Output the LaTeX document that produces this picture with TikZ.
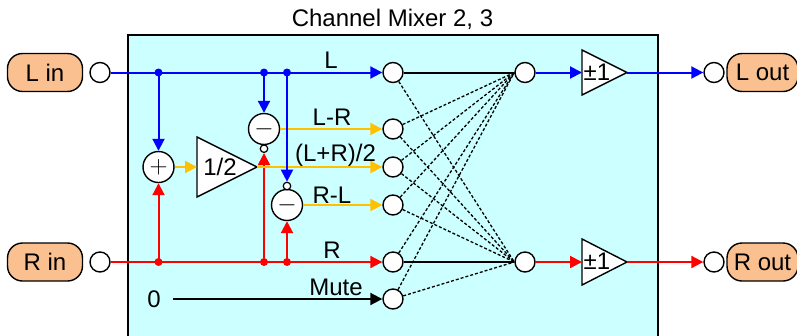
\documentclass[tikz,border=0pt]{standalone}
\usepackage{fontspec}
\setmainfont{Liberation Sans}
\usetikzlibrary{arrows.meta}
\definecolor{panelbg}{HTML}{CCFFFF}
\definecolor{pillbg}{HTML}{FAC08F}
\definecolor{amber}{HTML}{FFC000}
\tikzset{
  lbl/.style={inner sep=0pt,font=\fontsize{24}{26}\selectfont},
  pill/.style={draw=black,line width=1.4pt,fill=pillbg,rounded corners=15pt,minimum height=38pt,inner sep=0pt,font=\fontsize{24}{26}\selectfont},
  port/.style={circle,draw=black,line width=1.4pt,fill=white,minimum size=20pt,inner sep=0pt},
  mixer/.style={circle,draw=black,line width=1.4pt,fill=white,minimum size=31pt,inner sep=0pt,text height=0pt,text depth=0pt,font=\fontsize{25}{26}\selectfont},
  invert/.style={circle,draw=black,line width=1.2pt,fill=white,minimum size=7.5pt,inner sep=0pt},
  dot/.style={circle,minimum size=8pt,inner sep=0pt},
  sig/.style={line width=2pt,-{Triangle[length=12pt,width=12pt]}},
  plain/.style={line width=2pt},
  cross/.style={line width=1.3pt,dash pattern=on 3pt off 2pt},
  amp/.style={draw=black,line width=1.4pt,fill=white,line join=miter}
}
\begin{document}
\begin{tikzpicture}[x=1pt,y=-1pt]
\useasboundingbox (0,0) rectangle (797,335);
\clip (0,0) rectangle (797,335);
\draw[line width=1.4pt,fill=panelbg] (128,35) rectangle (658,345);
\node[lbl] (title) at (392.5,19) {Channel Mixer 2, 3};

\node[pill,minimum width=75pt] (lin) at (45,72.5) {L in};
\node[pill,minimum width=75pt] (rin) at (45,262) {R in};
\node[pill,minimum width=71pt] (lout) at (762.5,72.5) {L out};
\node[pill,minimum width=71pt] (rout) at (762.5,262) {R out};

\node[port] (pli) at (100,72.5) {};
\node[port] (pri) at (100,262) {};
\node[port] (plo) at (714,72.5) {};
\node[port] (pro) at (714,262) {};

\node[port] (nl) at (393,72.5) {};
\node[port] (nlr) at (393,129) {};
\node[port] (nsum) at (393,167) {};
\node[port] (nrl) at (393,205) {};
\node[port] (nr) at (393,262) {};
\node[port] (nm) at (393,299) {};
\node[port] (xl) at (525,72.5) {};
\node[port] (xr) at (525,262) {};

\node[mixer] (add) at (158.5,167) {\raisebox{-6.2pt}{$+$}};
\node[mixer] (subt) at (264,129) {\raisebox{-6.2pt}{$-$}};
\node[mixer] (subb) at (287,205) {\raisebox{-6.2pt}{$-$}};
\node[invert] (it) at (264,148.7) {};
\node[invert] (ib) at (287,186) {};

\draw[amp] (197,137) -- (257,167) -- (197,197) -- cycle;
\draw[amp] (582,50) -- (627,72.5) -- (582,95) -- cycle;
\draw[amp] (582,239) -- (627,262) -- (582,285) -- cycle;
\coordinate (hin) at (197,167);
\coordinate (hout) at (257,167);
\coordinate (a1in) at (582,72.5);
\coordinate (a1out) at (627,72.5);
\coordinate (a2in) at (582,262);
\coordinate (a2out) at (627,262);
\node[lbl] (half) at (220,167) {1/2};
\node[lbl] (g1) at (597,72) {±1};
\node[lbl] (g2) at (597,261) {±1};

\node[dot] (jl1) at (158.5,72.5) {};
\node[dot] (jl2) at (264,72.5) {};
\node[dot] (jl3) at (287,72.5) {};
\node[dot] (jr1) at (158.5,262) {};
\node[dot] (jr2) at (264,262) {};
\node[dot] (jr3) at (287,262) {};

% dashed matrix
\foreach \s in {nlr,nsum,nrl,nr,nm} \draw[cross] (\s) -- (xl.west);
\foreach \s in {nl,nlr,nsum,nrl,nm} \draw[cross] (\s) -- (xr.west);
\draw[plain,black] (nl) -- (xl);
\draw[plain,black] (nr) -- (xr);

% red
\draw[sig,red] (pri) -- (nr);
\draw[sig,red] (jr1.center) -- (add);
\draw[sig,red] (jr2.center) -- (it);
\draw[sig,red] (jr3.center) -- (subb);
\fill[red] (jr1) circle (4pt) (jr2) circle (4pt) (jr3) circle (4pt);
\draw[sig,red] (xr) -- (a2in);
\draw[sig,red] (a2out) -- (pro);

% amber
\draw[sig,amber] (add) -- (hin);
\draw[sig,amber] (hout) -- (nsum);
\draw[sig,amber] (subt) -- (nlr);
\draw[sig,amber] (subb) -- (nrl);

% blue
\draw[sig,blue] (pli) -- (nl);
\draw[sig,blue] (jl1.center) -- (add);
\draw[sig,blue] (jl2.center) -- (subt);
\draw[sig,blue] (jl3.center) -- (ib);
\fill[blue] (jl1) circle (4pt) (jl2) circle (4pt) (jl3) circle (4pt);
\draw[sig,blue] (xl) -- (a1in);
\draw[sig,blue] (a1out) -- (plo);

% mute
\node[lbl] (zero) at (154,299) {0};
\draw[sig,black] (zero.east) ++(12,0) coordinate (zs) (zs) -- (nm);

\node[lbl] (tl) at (331,60.5) {L};
\node[lbl] (tlr) at (332,117) {L-R};
\node[lbl] (ts) at (335.5,155) {(L+R)/2};
\node[lbl] (trl) at (332,195) {R-L};
\node[lbl] (tr) at (332,250) {R};
\node[lbl] (tm) at (336,287) {Mute};
\end{tikzpicture}
\end{document}
